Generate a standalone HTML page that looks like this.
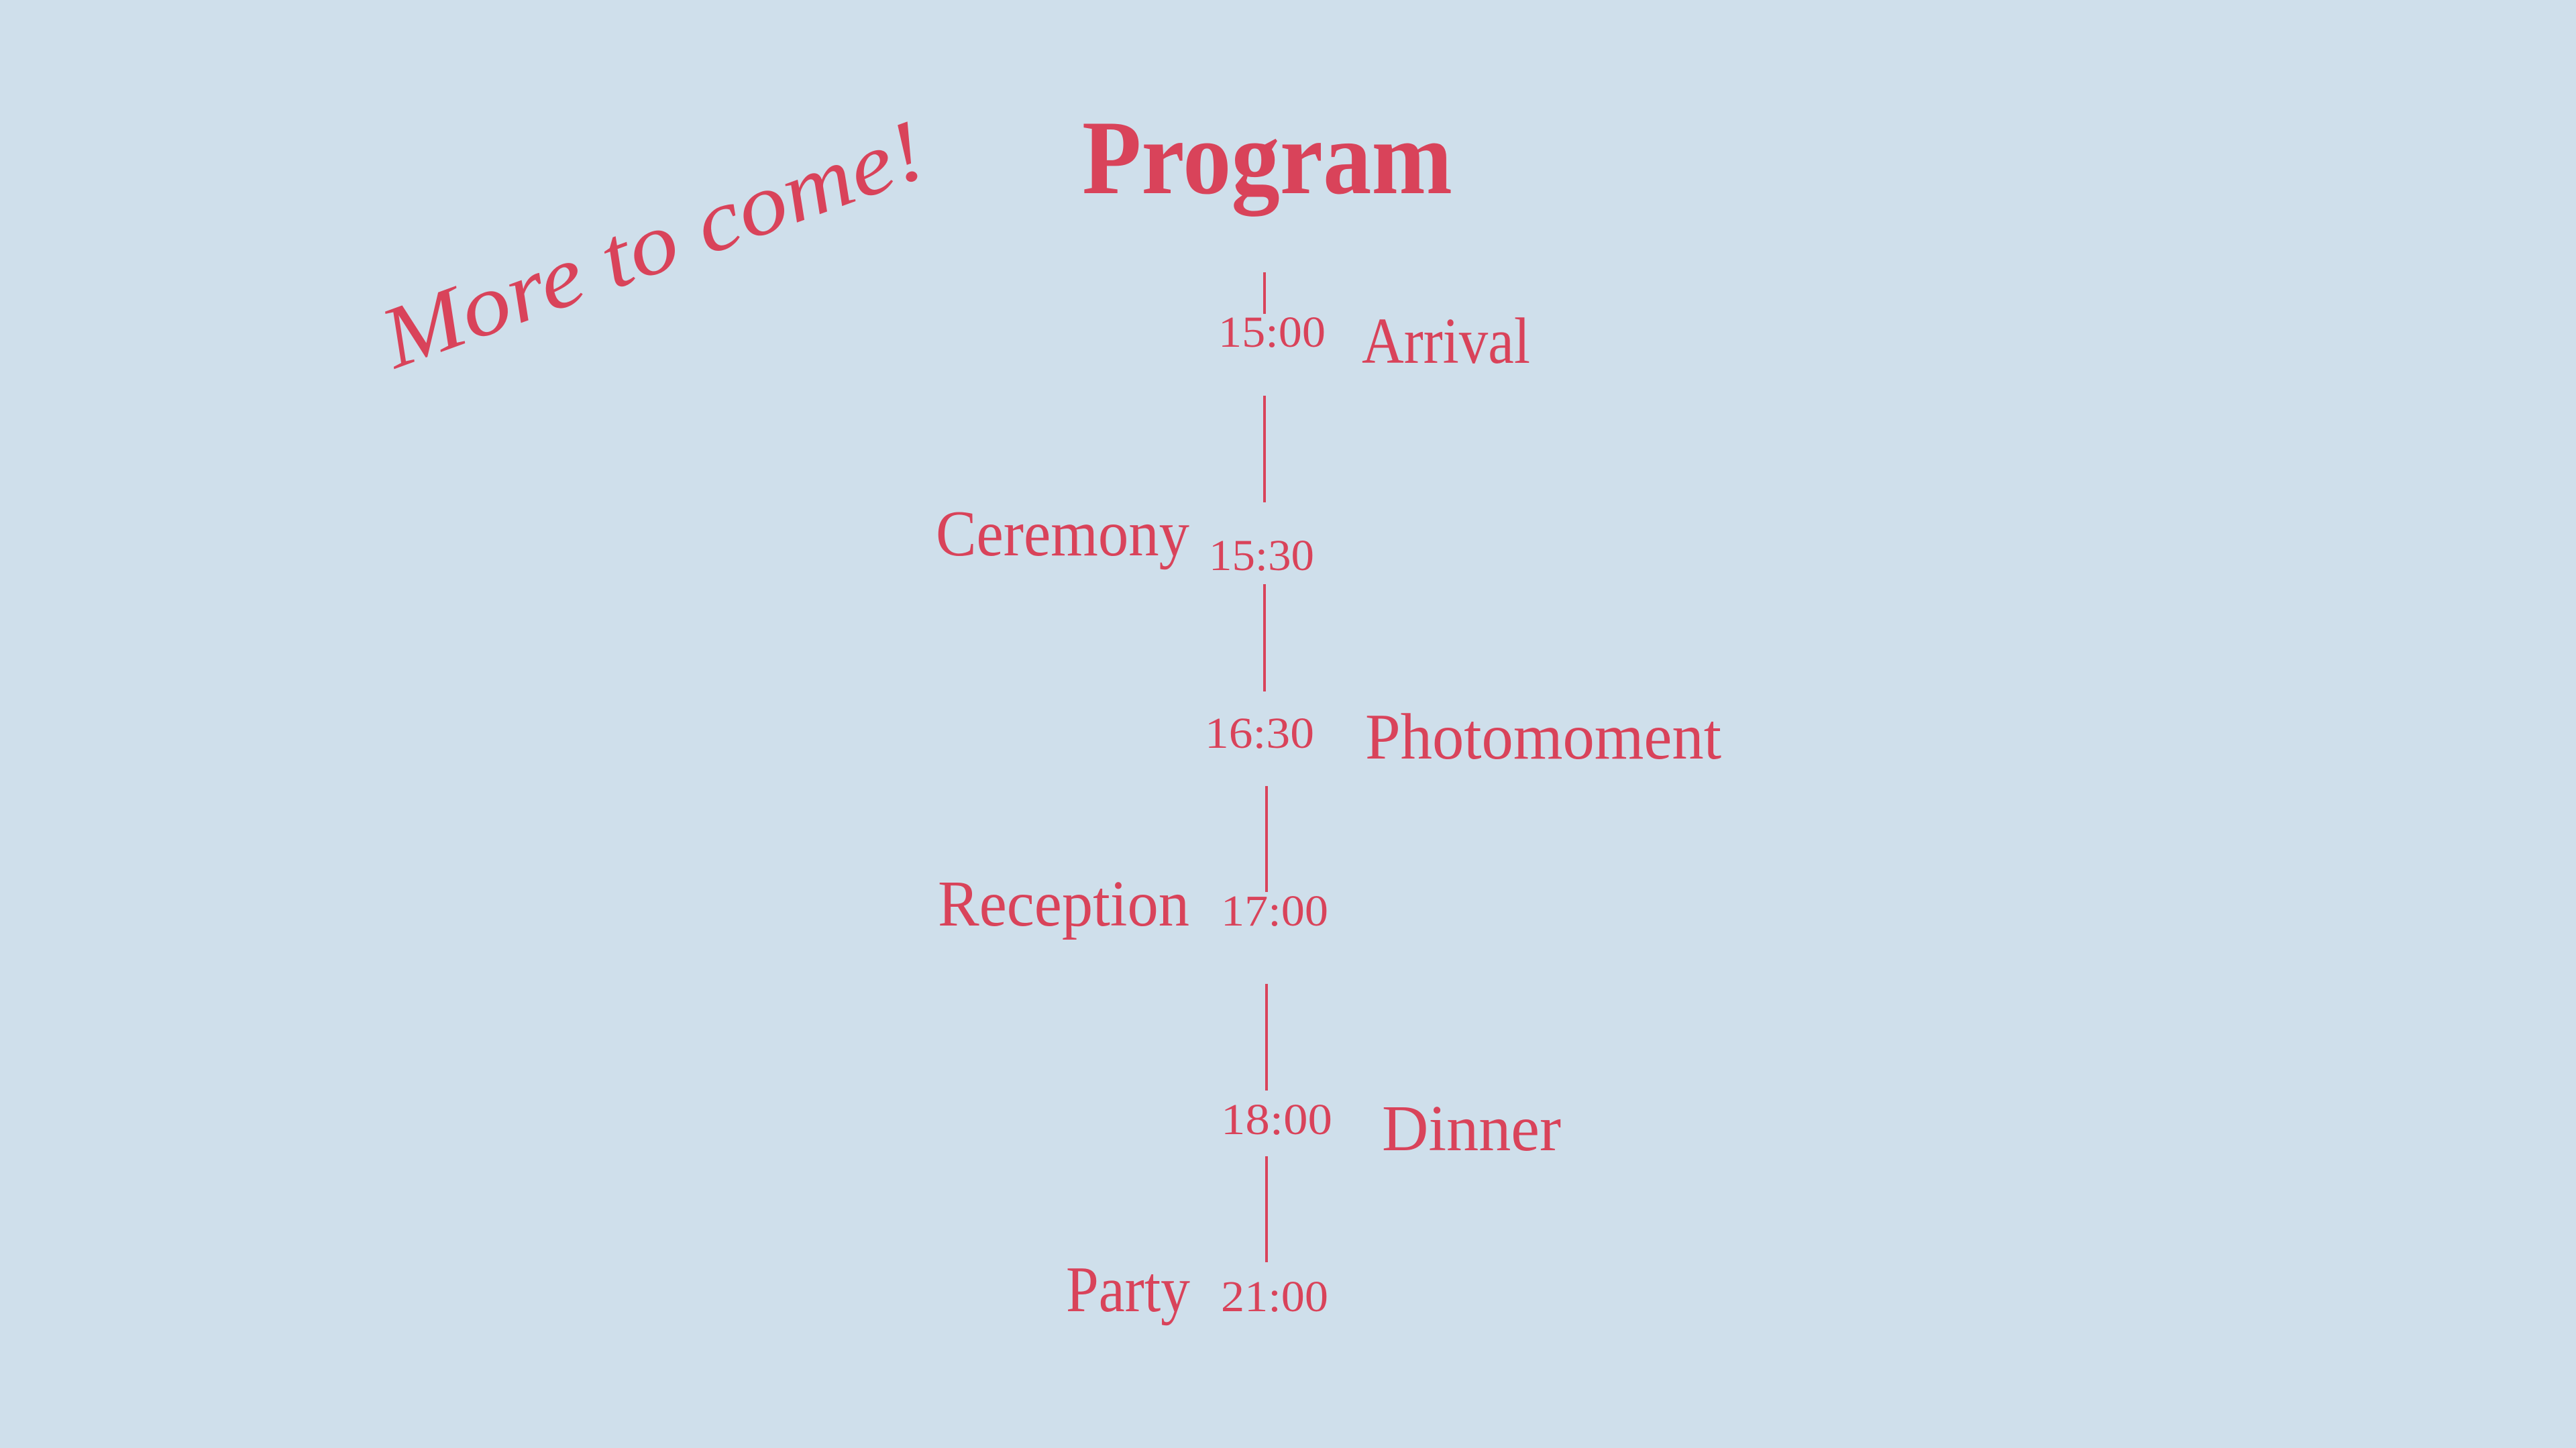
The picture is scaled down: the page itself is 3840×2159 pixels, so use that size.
<!DOCTYPE html>
<html><head><meta charset="utf-8"><style>
html,body{margin:0;padding:0;background:#cfdfeb;overflow:hidden;}
svg{display:block;}
</style></head><body>
<svg width="3840" height="2159" viewBox="0 0 3840 2159" xmlns="http://www.w3.org/2000/svg">
<rect width="3840" height="2159" fill="#cfdfeb"/>
<g fill="#d9435a" font-family="'Liberation Serif', serif">
<text x="1613" y="288" font-size="158" font-weight="bold" textLength="552" lengthAdjust="spacingAndGlyphs">Program</text>

<text x="1816" y="517" font-size="66" textLength="160" lengthAdjust="spacingAndGlyphs">15:00</text>
<text x="2030" y="541" font-size="97" textLength="251" lengthAdjust="spacingAndGlyphs">Arrival</text>

<text x="1395" y="828" font-size="97" textLength="378" lengthAdjust="spacingAndGlyphs">Ceremony</text>
<text x="1802" y="850" font-size="66" textLength="157" lengthAdjust="spacingAndGlyphs">15:30</text>

<text x="1796" y="1115" font-size="66" textLength="163" lengthAdjust="spacingAndGlyphs">16:30</text>
<text x="2035" y="1131" font-size="97" textLength="531" lengthAdjust="spacingAndGlyphs">Photomoment</text>

<text x="1398" y="1380" font-size="97" textLength="375" lengthAdjust="spacingAndGlyphs">Reception</text>
<text x="1820" y="1380" font-size="66" textLength="160" lengthAdjust="spacingAndGlyphs">17:00</text>

<text x="1820" y="1691" font-size="66" textLength="166" lengthAdjust="spacingAndGlyphs">18:00</text>
<text x="2060" y="1715" font-size="97" textLength="267" lengthAdjust="spacingAndGlyphs">Dinner</text>

<text x="1589" y="1955" font-size="97" textLength="185" lengthAdjust="spacingAndGlyphs">Party</text>
<text x="1820" y="1955" font-size="66" textLength="160" lengthAdjust="spacingAndGlyphs">21:00</text>

<text x="985" y="405" font-size="130" font-style="italic" text-anchor="middle" textLength="850" lengthAdjust="spacingAndGlyphs" transform="rotate(-20 985 395)">More to come!</text>
</g>
<g stroke="#d9435a" stroke-width="4">
<line x1="1885" y1="406" x2="1885" y2="468"/>
<line x1="1885" y1="590" x2="1885" y2="749"/>
<line x1="1885" y1="871" x2="1885" y2="1031"/>
<line x1="1888" y1="1172" x2="1888" y2="1330"/>
<line x1="1888" y1="1467" x2="1888" y2="1626"/>
<line x1="1888" y1="1724" x2="1888" y2="1882"/>
</g>
</svg>
</body></html>
